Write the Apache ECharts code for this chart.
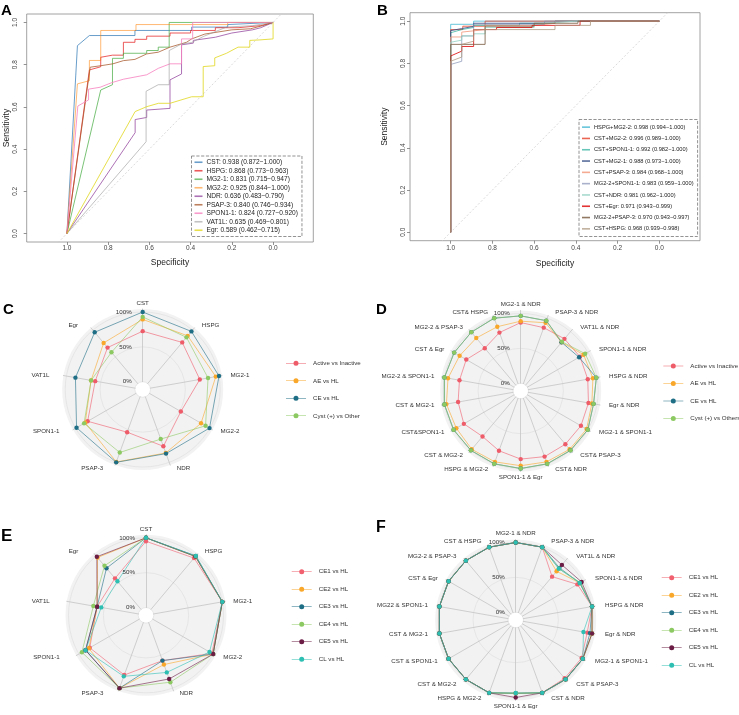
<!DOCTYPE html>
<html><head><meta charset="utf-8">
<script src="https://cdn.jsdelivr.net/npm/echarts@6/dist/echarts.min.js"></script>
<style>html,body{margin:0;padding:0;background:#fff}#c{width:739px;height:715px}</style>
</head><body><div id="c"></div>
<script>
// ================= DATA =================
const rocTicks = [0, 0.2, 0.4, 0.6, 0.8, 1.0];
const refLine = [[1.3, -0.3], [-0.3, 1.3]];

// Panel A  [specificity, sensitivity]
const namesA = ['CST: 0.938 (0.872\u22121.000)','HSPG: 0.868 (0.773\u22120.963)','MG2-1: 0.831 (0.715\u22120.947)','MG2-2: 0.925 (0.844\u22121.000)','NDR: 0.636 (0.483\u22120.790)','PSAP-3: 0.840 (0.746\u22120.934)','SPON1-1: 0.824 (0.727\u22120.920)','VAT1L: 0.635 (0.469\u22120.801)','Egr: 0.589 (0.462\u22120.715)'];
const colorsA = ['rgba(55,126,184,0.75)','rgba(228,26,28,0.72)','rgba(77,175,74,0.75)','rgba(255,127,0,0.55)','rgba(152,78,163,0.8)','rgba(166,86,40,0.75)','rgba(247,129,191,0.8)','rgba(153,153,153,0.6)','rgba(225,215,30,0.8)'];
const cstA = [[1,0],[0.949,0.89],[0.891,0.938],[0.67,0.938],[0.67,0.962],[0.395,0.962],[0.395,0.978],[0.22,0.978],[0.22,0.99],[0,1]];
const hspgA = [[1,0],[0.891,0.775],[0.891,0.78],[0.836,0.79],[0.836,0.835],[0.779,0.845],[0.726,0.845],[0.726,0.906],[0.67,0.906],[0.67,0.92],[0.613,0.92],[0.613,0.935],[0.5,0.935],[0.5,0.95],[0.4,0.95],[0.4,0.962],[0.28,0.962],[0.28,0.975],[0.17,0.975],[0.06,0.985],[0.06,0.99],[0,1]];
const mg21A = [[1,0],[0.836,0.68],[0.779,0.705],[0.779,0.83],[0.726,0.83],[0.726,0.854],[0.613,0.854],[0.613,0.867],[0.557,0.867],[0.557,0.883],[0.504,0.883],[0.504,1],[0,1]];
const mg22A = [[1,0],[0.949,0.709],[0.891,0.724],[0.891,0.82],[0.836,0.82],[0.836,0.962],[0.665,0.962],[0.665,0.99],[0.22,0.99],[0.22,1],[0,1]];
const ndrA = [[1,0],[0.669,0.478],[0.669,0.54],[0.613,0.55],[0.613,0.585],[0.5,0.593],[0.5,0.728],[0.444,0.756],[0.444,0.894],[0.387,0.902],[0.387,0.915],[0.28,0.93],[0.2,0.95],[0.1,0.965],[0.06,0.975],[0,1]];
const psapA = [[1,0],[0.887,0.788],[0.836,0.795],[0.777,0.804],[0.726,0.819],[0.67,0.825],[0.613,0.851],[0.557,0.859],[0.5,0.883],[0.42,0.906],[0.395,0.922],[0.331,0.945],[0.2,0.965],[0.11,0.97],[0.05,0.985],[0,1]];
const sponA = [[1,0],[0.947,0.604],[0.895,0.633],[0.895,0.684],[0.839,0.693],[0.782,0.715],[0.726,0.731],[0.613,0.752],[0.613,0.756],[0.556,0.783],[0.5,0.804],[0.444,0.804],[0.444,0.922],[0.39,0.922],[0.39,1],[0,1]];
const vatA = [[1,0],[0.616,0.435],[0.616,0.674],[0.557,0.705],[0.504,0.705],[0.504,0.867],[0.444,0.898],[0.395,0.905],[0.339,0.933],[0.226,0.978],[0.1,0.985],[0,1]];
const egrA = [[1,0],[0.669,0.578],[0.613,0.601],[0.556,0.617],[0.5,0.617],[0.395,0.648],[0.339,0.648],[0.339,0.791],[0.283,0.795],[0.283,0.832],[0.226,0.854],[0.17,0.883],[0.113,0.883],[0.113,0.915],[0.068,0.917],[0,0.922],[0,1]];
const curvesA = [cstA, hspgA, mg21A, mg22A, ndrA, psapA, sponA, vatA, egrA];

// Panel B
const namesB = ['HSPG+MG2-2: 0.998 (0.994\u22121.000)','CST+MG2-2: 0.996 (0.989\u22121.000)','CST+SPON1-1: 0.992 (0.982\u22121.000)','CST+MG2-1: 0.988 (0.973\u22121.000)','CST+PSAP-3: 0.984 (0.968\u22121.000)','MG2-2+SPON1-1: 0.983 (0.959\u22121.000)','CST+NDR: 0.981 (0.962\u22121.000)','CST+Egr: 0.971 (0.943\u22120.999)','MG2-2+PSAP-3: 0.970 (0.943\u22120.997)','CST+HSPG: 0.968 (0.939\u22120.998)'];
const colorsB = ['rgba(77,187,213,0.85)','rgba(230,75,53,0.85)','rgba(0,160,135,0.6)','rgba(60,84,136,0.85)','rgba(243,155,127,0.85)','rgba(132,145,180,0.7)','rgba(145,209,194,0.8)','rgba(220,0,0,0.8)','rgba(126,97,72,0.85)','rgba(176,156,133,0.8)'];
const hspgMg22B = [[1,0],[1,0.985],[0.89,0.985],[0.89,1],[0,1]];
const cstMg22B = [[1,0],[1,0.96],[0.942,0.96],[0.942,0.976],[0.835,0.976],[0.835,1],[0,1]];
const cstSponB = [[1,0],[1,0.945],[0.947,0.96],[0.89,0.97],[0.89,0.98],[0.67,0.98],[0.67,0.99],[0.5,0.99],[0.5,1],[0,1]];
const cstMg21B = [[1,0],[1,0.955],[0.947,0.965],[0.89,0.975],[0.89,0.99],[0.5,0.99],[0.5,1],[0,1]];
const cstPsapB = [[1,0],[1,0.925],[0.947,0.925],[0.947,0.948],[0.835,0.96],[0.835,0.98],[0.6,0.98],[0.5,0.99],[0.5,1],[0,1]];
const mg22SponB = [[1,0],[1,0.795],[0.947,0.81],[0.947,0.93],[0.89,0.93],[0.89,0.985],[0.55,0.985],[0.55,1],[0,1]];
const cstNdrB = [[1,0],[1,0.9],[0.947,0.91],[0.947,0.93],[0.89,0.93],[0.89,0.94],[0.835,0.94],[0.835,0.97],[0.6,0.97],[0.6,0.985],[0.4,1],[0,1]];
const cstEgrB = [[1,0],[1,0.835],[0.947,0.858],[0.947,0.88],[0.89,0.88],[0.89,0.96],[0.78,0.96],[0.78,0.97],[0.61,0.97],[0.61,0.98],[0.38,0.98],[0.38,1],[0,1]];
const mg22PsapB = [[1,0],[1,0.89],[0.835,0.89],[0.835,0.976],[0.6,0.976],[0.6,0.99],[0.39,0.99],[0.39,1],[0,1]];
const cstHspgB = [[1,0],[1,0.81],[0.947,0.83],[0.947,0.89],[0.89,0.905],[0.89,0.96],[0.835,0.96],[0.5,0.96],[0.5,0.98],[0.33,0.98],[0.33,1],[0,1]];
const curvesB = [hspgMg22B, cstMg22B, cstSponB, cstMg21B, cstPsapB, mg22SponB, cstNdrB, cstEgrB, mg22PsapB, cstHspgB];

// Panel C (radar, clockwise from top)
const catC = ['CST','HSPG','MG2-1','MG2-2','NDR','PSAP-3','SPON1-1','VAT1L','Egr'];
const groupsC = ['Active vs Inactive','AE vs HL','CE vs HL','Cyst (+) vs Other'];
const colorsCD = ['#EE5B69','#F8A72A','#1E6E85','#8DC963'];
const C_active = [0.725,0.77,0.72,0.52,0.755,0.54,0.80,0.58,0.673];
const C_ae = [0.894,0.893,0.953,0.855,0.857,0.995,0.84,0.64,0.76];
const C_ce = [1.0,0.976,1.0,0.995,0.867,1.0,0.984,0.868,0.96];
const C_cyst = [0.93,0.865,0.84,0.93,0.645,0.85,0.86,0.64,0.585];

// Panel D
const catD = ['MG2-1 & NDR','PSAP-3 & NDR','VAT1L & NDR','SPON1-1 & NDR','HSPG & NDR','Egr & NDR','MG2-1 & SPON1-1','CST& PSAP-3','CST& NDR','SPON1-1 & Egr','HSPG & MG2-2','CST & MG2-2','CST&SPON1-1','CST & MG2-1','MG2-2 & SPON1-1','CST & Egr','MG2-2 & PSAP-3','CST& HSPG'];
const groupsD = ['Active vs Inactive','AE vs HL','CE vs HL','Cyst (+) vs Others'];
const D_active = [0.87,0.855,0.865,0.87,0.865,0.875,0.886,0.885,0.89,0.865,0.80,0.74,0.83,0.80,0.78,0.79,0.69,0.78];
const D_ae = [0.89,0.93,0.80,0.93,0.94,0.925,0.98,0.98,0.97,0.96,0.97,0.98,0.955,0.97,0.947,0.90,0.88,0.87];
const D_ce = [0.966,0.962,0.80,0.855,0.99,0.95,1,1,1,1,1,1,1,1,1,0.99,0.99,1];
const D_cyst = [0.966,0.962,0.81,0.957,0.99,0.95,1,1,1,1,1,1,1,1,1,0.99,0.99,1];

// Panel E
const groupsEF = ['CE1 vs HL','CE2 vs HL','CE3 vs HL','CE4 vs HL','CE5 vs HL','CL vs HL'];
const colorsEF = ['#F0606E','#F8A72A','#1E6E85','#8DC963','#6B1D45','#2EBFB3'];
const E_ce1 = [0.95,0.96,1.0,0.98,0.58,0.80,0.82,0.60,0.58];
const E_ce2 = [1.0,0.99,1.0,1.0,0.64,1.0,0.835,0.60,0.97];
const E_ce3 = [1.0,1.0,1.0,1.0,0.58,1.0,0.89,0.60,0.77];
const E_ce4 = [1.0,0.99,1.0,1.0,0.91,1.0,0.95,0.655,0.815];
const E_ce5 = [1.0,0.99,1.0,1.0,0.86,1.0,0.89,0.60,0.985];
const E_cl = [1.0,1.0,1.0,0.94,0.76,0.82,0.89,0.54,0.525];

// Panel F
const catF = ['MG2-1 & NDR','PSAP-3 & NDR','VAT1L & NDR','SPON1-1 & NDR','HSPG & NDR','Egr & NDR','MG2-1 & SPON1-1','CST & PSAP-3','CST & NDR','SPON1-1 & Egr','HSPG & MG2-2','CST & MG2-2','CST & SPON1-1','CST & MG2-1','MG22 & SPON1-1','CST & Egr','MG2-2 & PSAP-3','CST & HSPG'];
const F_ce1 = [1,1,0.70,0.91,1,0.93,0.98,0.98,1,0.94,1,1,1,1,1,1,1,1];
const F_ce2 = [1,1,0.80,0.95,1,1,1,1,1,0.94,1,1,1,1,1,1,1,1];
const F_ce3 = [1,1,0.865,0.95,1,0.97,1,1,1,0.94,1,1,1,1,1,1,1,1];
const F_ce4 = [1,1,0.85,0.96,1,1,1,1,1,0.94,1,1,1,1,1,1,1,1];
const F_ce5 = [1,1,0.92,0.98,1,1,1,1,1,1,1,1,1,1,1,1,1,1];
const F_cl = [1,1,0.85,0.95,1,0.875,1,1,1,0.935,1,1,1,1,1,1,1,1];

const pctTicks = [0, 0.5, 1];

// ================= BUILD =================
const FONT = 'Liberation Sans, Arial, Helvetica, sans-serif';
const chart = echarts.init(document.getElementById('c'));
const cw = a => [a[0]].concat(a.slice(1).reverse()); // radar draws counter-clockwise

const grids = [], xAxes = [], yAxes = [], series = [], legends = [], radars = [], polars = [], angleAxes = [], radiusAxes = [];

function rocPanel(gi, box, names, colors, curves, legPos, legFont, legRow, ax) {
  grids.push({left: box[0], top: box[1], width: box[2], height: box[3], show: true, borderColor: '#8a8a8a', borderWidth: 0.8, backgroundColor: 'transparent'});
  xAxes.push({gridIndex: gi, type: 'value', inverse: true, min: -0.195, max: 1.195, position: 'bottom',
    axisLine: {show: false, onZero: false}, splitLine: {show: false},
    axisTick: {show: true, length: 3, customValues: rocTicks, lineStyle: {color: '#777', width: 0.8}},
    axisLabel: {customValues: rocTicks, formatter: v => v.toFixed(1), fontSize: 6.5, color: '#444', margin: ax.xm, fontFamily: FONT},
    name: 'Specificity', nameLocation: 'middle', nameGap: ax.xg, nameTextStyle: {fontSize: 8.5, color: '#222', fontFamily: FONT}});
  yAxes.push({gridIndex: gi, type: 'value', min: -0.04, max: 1.04, position: 'left',
    axisLine: {show: false, onZero: false}, splitLine: {show: false},
    axisTick: {show: true, length: 3, customValues: rocTicks, lineStyle: {color: '#777', width: 0.8}},
    axisLabel: {customValues: rocTicks, formatter: v => v.toFixed(1), fontSize: 6.5, color: '#444', margin: ax.ym, rotate: 90, fontFamily: FONT},
    name: 'Sensitivity', nameLocation: 'middle', nameGap: ax.yg, nameTextStyle: {fontSize: 8.5, color: '#222', fontFamily: FONT}});
  series.push({type: 'line', xAxisIndex: gi, yAxisIndex: gi, data: refLine, symbol: 'none', silent: true,
    lineStyle: {type: [2, 2], color: '#c8c8c8', width: 0.7}, clip: true, z: 1});
  curves.forEach((d, i) => series.push({type: 'line', name: names[i], xAxisIndex: gi, yAxisIndex: gi, data: d,
    symbol: 'none', clip: true, lineStyle: {width: 1, color: colors[i]}, itemStyle: {color: colors[i]}, z: 2}));
  legends.push({data: names, orient: 'vertical', left: legPos[0], top: legPos[1], icon: 'rect', itemWidth: 8, itemHeight: 1.6,
    itemGap: 0, selectedMode: false, padding: [2, 4, 2, 3], borderColor: '#777', borderWidth: 0.8, borderType: 'dashed',
    textStyle: {fontSize: legFont, lineHeight: legRow, color: '#222', fontFamily: FONT, padding: [0, 0, 0, -1]}});
}

rocPanel(0, [26.7, 14, 286.6, 228], namesA, colorsA, curvesA, [191.5, 156], 6.6, 8.5, {xm: 3, xg: 16, ym: 8, yg: 10});
rocPanel(1, [410, 12.7, 290, 228], namesB, colorsB, curvesB, [579, 119.5], 5.7, 11.3, {xm: 4.3, xg: 18, ym: 3.4, yg: 21});

const HOLE = 7.8, R100 = 77.5, RBG = 80.5;
const legendIcon = 'path://M0,2.2 L20,2.2 L20,2.8 L0,2.8 Z M7.5,2.5 A2.5,2.5 0 1 1 12.5,2.5 A2.5,2.5 0 1 1 7.5,2.5 Z';

function radarPanel(center, cats, groups, colors, values, legPos, padL, padR) {
  const bgIdx = radars.length;
  const order = cw(cats);
  const N = order.length;
  const ind = order.map(n => ({name: n, min: 0, max: 1}));
  const txt = {color: '#333', fontSize: 6.2, fontFamily: FONT};
  radars.push({center: center, radius: [HOLE, RBG], startAngle: 90, shape: 'circle', splitNumber: 1,
    indicator: ind,
    axisName: Object.assign({}, txt, {
      formatter: function (name) {
        const k = order.indexOf(name);
        const s = -Math.sin(2 * Math.PI * k / N); // >0: right side (clockwise)
        if (s > 0.01) return '{r|' + name + '}';
        if (s < -0.01) return '{l|' + name + '}';
        return '{c|' + name + '}';
      },
      rich: {r: Object.assign({}, txt, {padding: [0, 0, 0, padR]}), l: Object.assign({}, txt, {padding: [0, padL, 0, 0]}), c: Object.assign({}, txt)}
    }),
    nameGap: 3,
    splitArea: {show: true, areaStyle: {color: ['#f3f2f3']}},
    splitLine: {show: false},
    axisLine: {show: true, lineStyle: {color: '#c4c4c4', width: 0.8}},
    axisTick: {show: false}, axisLabel: {show: false}, silent: true});
  radars.push({center: center, radius: [HOLE, R100], startAngle: 90, shape: 'circle', splitNumber: 2,
    indicator: ind.map(o => ({name: '', min: 0, max: 1})),
    axisName: {show: false},
    splitArea: {show: false},
    splitLine: {show: true, lineStyle: {color: '#e0e0e0', width: 0.7}},
    axisLine: {show: false}, axisTick: {show: false}, axisLabel: {show: false}, silent: true});
  const pIdx = polars.length;
  polars.push({center: center, radius: [HOLE, R100]});
  angleAxes.push({polarIndex: pIdx, show: false, startAngle: 90, min: 0, max: 360});
  radiusAxes.push({polarIndex: pIdx, min: 0, max: 1, interval: 0.5, axisLine: {show: false}, axisTick: {show: false},
    splitLine: {show: false}, axisLabel: {customValues: pctTicks, formatter: v => Math.round(v * 100) + '%', fontSize: 6.2, color: '#333', margin: 11, fontFamily: FONT}, z: 5});
  series.push({type: 'radar', radarIndex: bgIdx + 1, symbol: 'circle', symbolSize: 4.4,
    data: values.map((v, i) => ({name: groups[i], value: cw(v),
      itemStyle: {color: colors[i]}, lineStyle: {color: colors[i], width: 0.8, opacity: 0.75}})), z: 3});
  legends.push({data: groups, orient: 'vertical', left: legPos[0], top: legPos[1], icon: legendIcon, itemWidth: 20, itemHeight: 5,
    itemGap: 9.5, selectedMode: false, padding: 0,
    textStyle: {fontSize: 6.2, lineHeight: 8, color: '#333', fontFamily: FONT, padding: [0, 0, 0, 2]}});
}

radarPanel([142.7, 389.5], catC, groupsC, colorsCD, [C_active, C_ae, C_ce, C_cyst], [286, 359.3], 11, 5.5);
radarPanel([520.7, 391], catD, groupsD, colorsCD, [D_active, D_ae, D_ce, D_cyst], [663.3, 362], 4, 6);
radarPanel([146, 615.3], catC, groupsEF, colorsEF, [E_ce1, E_ce2, E_ce3, E_ce4, E_ce5, E_cl], [291.7, 567.7], 14, 5);
radarPanel([515.7, 620], catF, groupsEF, colorsEF, [F_ce1, F_ce2, F_ce3, F_ce4, F_ce5, F_cl], [661.7, 573.7], 5.6, 7);

const titles = [['A', 1, 3, 15], ['B', 377, 3, 15], ['C', 3, 302, 15], ['D', 376, 302, 15], ['E', 1, 528, 17], ['F', 376, 520, 16]]
  .map(t => ({text: t[0], left: t[1], top: t[2], padding: 0, textStyle: {fontSize: t[3], fontWeight: 'bold', color: '#000', fontFamily: FONT}}));

chart.setOption({
  animation: false,
  backgroundColor: '#fff',
  textStyle: {fontFamily: FONT},
  title: titles,
  grid: grids, xAxis: xAxes, yAxis: yAxes,
  radar: radars, polar: polars, angleAxis: angleAxes, radiusAxis: radiusAxes,
  legend: legends,
  series: series
});
</script></body></html>
